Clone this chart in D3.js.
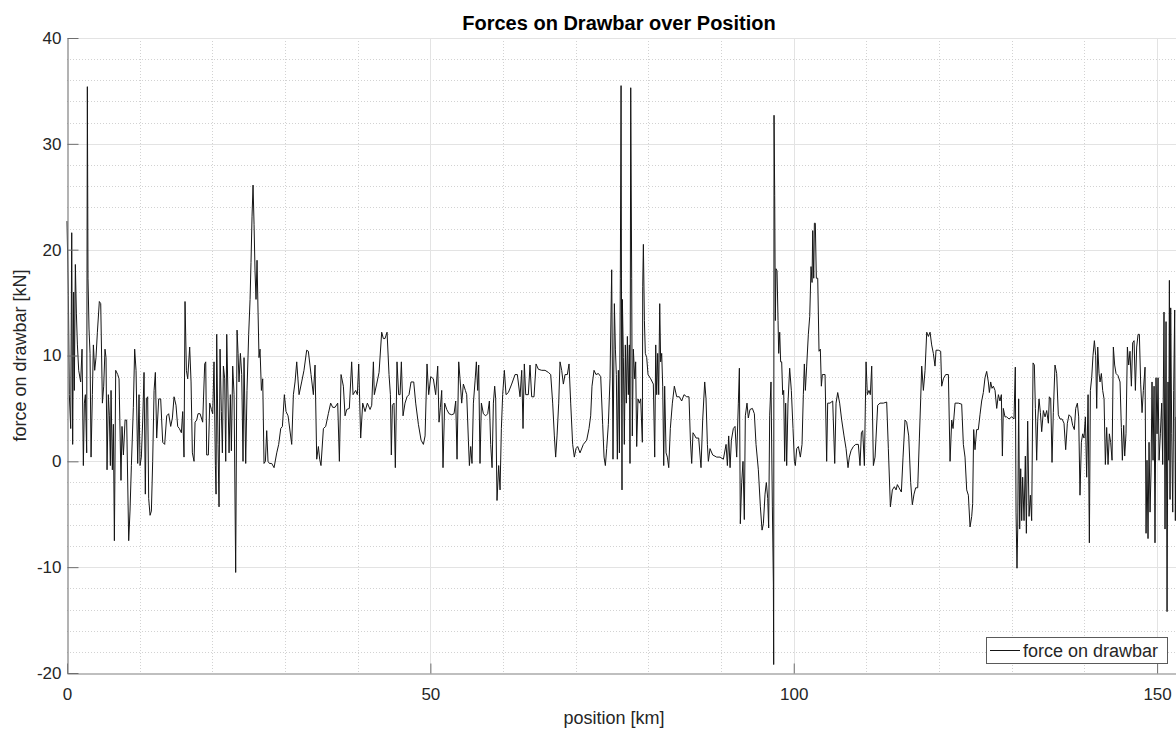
<!DOCTYPE html>
<html><head><meta charset="utf-8">
<script src="https://cdn.jsdelivr.net/npm/d3@7"></script>
<style>
body{margin:0;background:#fff}
svg{display:block}
text{font-family:"Liberation Sans",Arial,Helvetica,sans-serif;fill:#262626}
</style>
</head><body>
<svg id="chart" width="1176" height="733"></svg>
<script>
// ---------- texts & ticks ----------
const titleText = "Forces on Drawbar over Position";
const xLabelText = "position [km]";
const yLabelText = "force on drawbar [kN]";
const legendText = "force on drawbar";
const xTickValues = [0, 50, 100, 150];
const yTickValues = [-20, -10, 0, 10, 20, 30, 40];
const xDomain = [0, 152.6];
const yDomain = [-20, 40];

// ---------- data: [position km, force kN] ----------
const seg0to30 = [[0.00,22.7],[0.19,15.7],[0.32,6.3],[0.51,3.1],[0.65,21.6],[0.78,1.6],[0.92,16],[1.01,6.7],[1.15,18.6],[1.29,14],[1.43,11],[1.61,8.6],[1.88,7.5],[2.07,10.6],[2.25,-0.4],[2.39,5.5],[2.53,6.3],[2.71,0.8],[2.80,35.4],[2.89,17.3],[3.03,12.5],[3.17,10.2],[3.31,0.4],[3.49,6.3],[3.63,11],[3.81,8.6],[3.99,9.8],[4.18,12.2],[4.45,15.1],[4.64,14.9],[4.87,5.5],[5.05,7.1],[5.23,10.6],[5.37,9.8],[5.51,-0.8],[5.69,6.3],[5.83,4.3],[5.97,-0.4],[6.06,6.7],[6.24,-0.8],[6.38,3.5],[6.52,-7.5],[6.70,8.6],[6.98,8.2],[7.16,7.8],[7.43,-1.8],[7.57,3.3],[7.76,0.6],[7.99,3.9],[8.21,3.9],[8.49,-7.5],[8.67,-4.7],[8.86,-0.4],[9.13,5.1],[9.31,10.6],[9.50,8.6],[9.73,-0.2],[9.91,6.3],[10.05,-0.4],[10.23,0.4],[10.42,3.9],[10.60,8.4],[10.78,-3.1],[10.92,5.9],[11.10,6.1],[11.24,-3.5],[11.43,-5.1],[11.61,-4.7],[11.79,0],[11.98,6.7],[12.16,8.4],[12.34,2.2],[12.62,5.9],[12.89,5.9],[13.17,1.8],[13.44,1.6],[13.72,4.3],[13.99,4.5],[14.27,3.3],[14.50,4.1],[14.73,6.1],[15.00,5.3],[15.23,3.3],[15.46,3.1],[15.74,2.7],[15.92,4.7],[16.10,0.4],[16.24,15.1],[16.43,8.6],[16.61,7.8],[16.88,10.8],[17.07,7.5],[17.25,0.8],[17.48,0],[17.62,3.7],[17.85,3.9],[18.03,4.5],[18.31,4.5],[18.67,3.7],[18.95,9.2],[19.09,9.4],[19.22,0.6],[19.45,0.6],[19.64,5.5],[19.87,4.9],[20.05,4.5],[20.23,9.4],[20.42,-0.4],[20.51,-3.1],[20.60,12],[20.78,1.6],[20.92,-4.3],[21.06,10.6],[21.24,4.7],[21.38,0.8],[21.52,9.0],[21.70,7.8],[21.84,0],[21.98,12],[22.16,5.9],[22.30,0.8],[22.48,6.3],[22.62,1],[22.80,9],[22.99,6.3],[23.21,-10.5],[23.40,12.4],[23.54,10.2],[23.67,7.5],[23.86,10.2],[24.04,8.2],[24.22,0],[24.36,9.8],[24.59,-0.2],[24.77,6.7],[25.00,12],[25.19,15.3],[25.32,18.8],[25.46,23.1],[25.60,26.1],[25.74,22.4],[25.87,18],[26.01,15.3],[26.15,19],[26.29,14.1],[26.42,9.8],[26.56,10.6],[26.75,6.7],[26.93,7.8],[27.11,-0.2],[27.30,0],[27.48,2.9],[27.66,0],[27.85,-0.2],[28.17,-0.2],[28.49,-0.6],[28.86,0.8],[29.13,1.6],[29.41,3.1],[29.64,3.3],[29.91,6.3],[30.14,4.7],[30.42,4.3]];
const seg30to61 = [[30.92,1.6],[31.15,6.3],[31.38,7.5],[31.61,9.4],[31.93,6.3],[32.29,7.5],[32.61,8.6],[32.98,10.5],[33.21,10.4],[33.58,8.2],[33.90,6.3],[34.13,9.1],[34.36,0.2],[34.59,1.4],[34.77,0.2],[34.95,-0.4],[35.28,3.1],[35.60,3.3],[35.96,4.5],[36.28,5.5],[36.56,5.1],[36.88,5.1],[37.25,5.5],[37.48,0],[37.71,8.2],[38.03,7.1],[38.26,4.3],[38.49,4.9],[38.85,5],[39.17,9.4],[39.36,6.3],[39.72,6.7],[39.95,6.3],[40.14,9.2],[40.41,2.2],[40.69,5.5],[41.01,4.7],[41.33,5.5],[41.70,4.9],[41.93,5.3],[42.16,9.4],[42.29,6.3],[42.61,7.3],[42.94,8.4],[43.30,12.2],[43.53,11.6],[43.76,11.6],[44.04,12.2],[44.31,8.2],[44.50,6.3],[44.63,0.6],[44.77,5.3],[45.00,5.5],[45.18,-0.6],[45.41,9.4],[45.64,6.3],[45.83,6.3],[46.01,9.4],[46.24,4.3],[46.51,5.5],[46.79,6.1],[47.06,6.3],[47.34,7.5],[47.71,7.5],[47.98,5.5],[48.35,3.5],[48.72,2],[49.04,1.6],[49.27,2.4],[49.54,9.2],[49.77,6.3],[50.05,8],[50.41,7.8],[50.73,6.3],[51.01,9],[51.19,3.7],[51.38,5.1],[51.56,6.7],[51.74,-0.6],[51.97,5.5],[52.25,4.9],[52.57,4.5],[52.94,4.4],[53.26,4.5],[53.49,5.7],[53.67,0.2],[53.90,9.4],[54.08,7.8],[54.31,5.5],[54.54,7.3],[54.82,6.7],[55.00,6.3],[55.23,2],[55.37,-0.4],[55.55,1.4],[55.73,-0.2],[55.92,5.5],[56.15,7.6],[56.33,9.4],[56.51,6.7],[56.65,9.1],[56.83,-0.2],[57.02,5.5],[57.29,4.5],[57.61,4.3],[57.89,4.5],[58.12,5.7],[58.30,1.6],[58.49,-0.6],[58.67,5.5],[58.85,7.1],[58.99,5.9],[59.17,-3.7],[59.40,-0.4],[59.59,-2.7],[59.77,3.1],[59.95,6.3],[60.18,8.6],[60.41,6.3],[60.73,6.5],[61.19,7.3],[61.65,8.2]];
const seg61to92 = [[61.97,8.2],[62.34,6.1],[62.57,8.6],[62.75,3.1],[62.93,9.2],[63.12,6.3],[63.48,6.3],[63.71,9.1],[63.94,6.1],[64.26,6.1],[64.54,9.2],[64.86,8.7],[65.32,8.6],[65.78,8.6],[66.24,8.4],[66.56,8.2],[66.83,5.5],[67.06,2.4],[67.24,0.4],[67.43,2.4],[67.66,5.5],[67.84,9.4],[68.07,8.6],[68.30,7.3],[68.53,8.2],[68.85,8.2],[69.08,9.2],[69.31,5.5],[69.58,1.6],[69.81,0.4],[70.04,1.2],[70.27,1.4],[70.59,0.8],[71.05,1.6],[71.51,2],[71.83,3.1],[72.06,4.3],[72.24,7.1],[72.52,8.6],[72.79,8.2],[73.12,8.3],[73.44,8],[73.71,3.5],[73.90,0.4],[74.08,-0.4],[74.26,1.2],[74.49,3.5],[74.72,7.8],[74.95,18.1],[75.13,0.2],[75.32,14.9],[75.46,10.6],[75.59,8.2],[75.73,0.2],[75.87,8.6],[76.01,0.8],[76.14,17.3],[76.24,35.5],[76.33,5.5],[76.37,-2.7],[76.42,15.3],[76.56,9.8],[76.69,1.6],[76.83,11],[76.97,5.5],[77.11,11.8],[77.24,6.3],[77.38,11],[77.47,-0.2],[77.57,35.3],[77.70,17.3],[77.79,2.4],[77.93,10.6],[78.12,7.8],[78.25,9.4],[78.39,1.4],[78.57,5.9],[78.76,5.5],[78.94,5.9],[79.17,1.8],[79.22,16.5],[79.31,20.5],[79.45,13.3],[79.58,10.2],[79.77,9.8],[79.95,8.2],[80.32,7.8],[80.68,7.3],[80.87,0.4],[81.01,11],[81.14,6.3],[81.28,10.2],[81.42,6.3],[81.56,14.9],[81.69,9.4],[81.83,10.2],[81.97,7.1],[82.11,-0.4],[82.24,7.1],[82.43,0.8],[82.61,0.4],[82.80,-0.6],[83.02,3.1],[83.30,5.5],[83.57,7.1],[83.90,6.1],[84.26,6.1],[84.58,5.7],[84.90,6.3],[85.27,6.1],[85.59,6.1],[85.78,2],[85.96,-0.2],[86.14,2.7],[86.33,2.5],[86.56,2.2],[86.92,2.2],[87.24,-0.6],[87.47,3.9],[87.75,7.5],[87.93,5.9],[88.12,1.6],[88.25,0],[88.48,1.2],[88.85,0.6],[89.40,0.4],[89.86,0.4],[90.32,0.2],[90.69,1.6],[90.87,-0.4],[91.05,2.4],[91.24,-0.6],[91.42,2],[91.69,3.1],[91.92,3.3],[92.15,0.4],[92.38,5.5],[92.52,8.8]];
const seg92to123 = [[92.65,-5.9],[92.84,-2],[93.02,0],[93.20,-5.5],[93.34,4.3],[93.57,5.5],[93.75,4.1],[93.98,4.9],[94.31,5],[94.58,4.5],[94.81,1.6],[95.13,-0.8],[95.41,-4.3],[95.64,-6.5],[95.82,-5.9],[96.05,-3.1],[96.23,-2],[96.42,-3.5],[96.55,-6.3],[96.69,4.3],[96.87,7.5],[97.06,-4.3],[97.20,-11.6],[97.24,-19.2],[97.29,32.7],[97.38,25.1],[97.47,13.3],[97.56,18.2],[97.70,18],[97.84,13.3],[97.93,10.2],[98.07,12.2],[98.20,9.4],[98.34,9.4],[98.48,6.3],[98.62,6.7],[98.75,0],[98.89,5.5],[99.03,-0.4],[99.21,5.5],[99.44,8.8],[99.67,6.7],[99.90,3.1],[100.09,0],[100.22,-0.4],[100.41,1.2],[100.64,1.4],[100.91,0.4],[101.14,1.6],[101.32,6.3],[101.46,9.2],[101.60,6.7],[101.78,9],[102.01,12],[102.20,13.7],[102.38,18.4],[102.52,16.9],[102.61,21.8],[102.75,17.3],[102.84,22.5],[102.97,22.5],[103.11,17.3],[103.30,17.3],[103.48,10.4],[103.66,10.6],[103.80,7.1],[103.94,8.2],[104.31,8.2],[104.53,0],[104.67,5.5],[104.99,5.5],[105.36,5.7],[105.64,-0.2],[105.82,5.5],[106.05,6.5],[106.32,5.5],[106.60,3.9],[106.92,2.4],[107.20,1.2],[107.47,-0.6],[107.65,0.4],[107.88,1],[108.20,1.4],[108.53,1.6],[108.89,1.6],[109.12,-0.4],[109.31,2.7],[109.49,2.9],[109.72,-0.4],[109.95,9.4],[110.13,6.3],[110.36,6.7],[110.54,6.3],[110.73,9],[110.96,-0.4],[111.19,0.4],[111.55,5.3],[111.87,5.5],[112.33,5.5],[112.79,5.6],[113.02,1.2],[113.30,-4.3],[113.57,-2.7],[113.85,-2.4],[114.08,-2.7],[114.26,-2.2],[114.49,-2.5],[114.81,-2.9],[115.04,0.4],[115.31,3.9],[115.54,3.7],[115.82,2.4],[116.09,-2],[116.32,-4.1],[116.55,-3.1],[116.78,-2.5],[117.06,-2.5],[117.29,2.2],[117.47,5.9],[117.61,9],[117.84,6.7],[118.07,8.6],[118.30,12.2],[118.53,11.8],[118.76,12.2],[118.98,11],[119.21,10.2],[119.44,9],[119.58,10.5],[119.90,10.5],[120.22,10.4],[120.36,7.1],[120.59,7.8],[120.91,8.2],[121.28,8.2],[121.51,0],[121.74,3.9],[121.92,3.1],[122.20,5.5],[122.65,5.5],[123.11,5.4],[123.34,1.6],[123.57,0.4]];
const seg123to153 = [[123.80,-2.7],[124.03,-3.2],[124.26,-6.2],[124.49,-5.2],[124.62,-4],[124.76,3],[124.94,1.1],[125.17,3],[125.40,3],[125.63,4.4],[125.86,5.7],[126.09,6.5],[126.32,7.9],[126.55,8.5],[126.78,7.5],[126.92,6.5],[127.10,7.5],[127.28,6.9],[127.47,7.1],[127.70,6.7],[127.93,5],[128.16,6.3],[128.38,5.7],[128.57,6.3],[128.71,0.5],[128.84,5],[129.07,4.2],[129.30,4.2],[129.62,4],[129.99,4.2],[130.31,4],[130.49,8.9],[130.59,-4.8],[130.72,-10.1],[130.82,-6.4],[130.95,5.9],[131.09,-6.4],[131.23,-0.7],[131.37,-5.6],[131.50,-1.5],[131.69,-5.6],[131.87,0.5],[132.01,-6.8],[132.19,3.8],[132.38,-5.2],[132.56,-3.2],[132.74,-5.6],[132.93,9.3],[133.11,9.1],[133.25,5],[133.43,0.1],[133.57,3.8],[133.75,5.9],[133.94,4.6],[134.12,2.8],[134.35,4.8],[134.58,4.2],[134.81,4.8],[135.04,3.6],[135.17,6.1],[135.36,5.9],[135.54,-0.1],[135.72,4.6],[135.95,9.1],[136.18,8.3],[136.41,4.4],[136.64,4],[136.92,4],[137.19,3.6],[137.42,1.1],[137.65,3.6],[137.88,4.4],[138.16,4.2],[138.38,3.4],[138.61,3],[138.80,5],[139.03,5.5],[139.21,4.2],[139.39,-3.2],[139.58,1.8],[139.76,2.6],[139.94,2.2],[140.13,4.2],[140.31,-1.5],[140.50,6.3],[140.68,-7.7],[140.82,6.7],[141.00,7.9],[141.18,10],[141.37,11.4],[141.55,10],[141.69,5],[141.83,10.8],[142.01,8.3],[142.15,7.5],[142.33,8.3],[142.51,6.7],[142.70,5.9],[142.88,-0.3],[143.06,3.2],[143.25,-0.3],[143.43,2.6],[143.61,1.8],[143.80,0.1],[143.98,10.8],[144.16,9.1],[144.35,8.3],[144.62,8.1],[144.90,7.5],[145.08,3.2],[145.22,0.1],[145.40,3.4],[145.54,0.5],[145.72,2.6],[145.91,10.8],[146.09,9.1],[146.27,10.4],[146.46,7.1],[146.64,11.2],[146.83,11.4],[147.01,6.7],[147.19,10.8],[147.38,12],[147.56,12],[147.74,7.3],[147.93,4.6],[148.11,6.7],[148.34,8.9],[148.48,-6.8],[148.61,0.1],[148.75,-7.3],[148.89,1.8],[149.03,-4.8],[149.16,-1.1],[149.30,7.5],[149.44,0.1],[149.58,7.1],[149.71,-7.7],[149.85,7.9],[149.99,2.6],[150.13,7.9],[150.27,0.1],[150.45,2.6],[150.63,5.5],[150.77,-0.3],[150.95,14.1],[151.09,-6.4],[151.23,13.2],[151.37,-14.2],[151.50,7.5],[151.60,0.1],[151.69,17.1],[151.78,-3.6],[151.87,14.5],[152.01,2.6],[152.15,-4.8],[152.28,6.7],[152.42,14.3],[152.51,-5.6],[152.60,4.2]];
const drawbarForce = [].concat(seg0to30, seg30to61, seg61to92, seg92to123, seg123to153);

// ---------- layout ----------
const plot = {left: 67, right: 1176, top: 38, bottom: 673};
const svg = d3.select("#chart");
const x = d3.scaleLinear().domain(xDomain).range([plot.left, plot.right]);
const y = d3.scaleLinear().domain(yDomain).range([plot.bottom, plot.top]);

const xMinor = d3.range(10, 153, 10).filter(v => v % 50 !== 0);
const yMinor = d3.range(-18, 40, 2).filter(v => v % 10 !== 0);
const xMajor = xTickValues.filter(v => v !== 0);
const yMajor = yTickValues.filter(v => v !== -20);

const grid = svg.append("g");
grid.selectAll(".xm").data(xMinor).join("line")
  .attr("x1", d => Math.round(x(d)) + 0.5).attr("x2", d => Math.round(x(d)) + 0.5)
  .attr("y1", plot.top).attr("y2", plot.bottom)
  .attr("stroke", "#d2d2d2").attr("stroke-dasharray", "1,2");
grid.selectAll(".ym").data(yMinor).join("line")
  .attr("y1", d => Math.round(y(d)) + 0.5).attr("y2", d => Math.round(y(d)) + 0.5)
  .attr("x1", plot.left).attr("x2", plot.right)
  .attr("stroke", "#d2d2d2").attr("stroke-dasharray", "1,2");
grid.selectAll(".xM").data(xMajor).join("line")
  .attr("x1", d => Math.round(x(d)) + 0.5).attr("x2", d => Math.round(x(d)) + 0.5)
  .attr("y1", plot.top).attr("y2", plot.bottom)
  .attr("stroke", "#e3e3e3");
grid.selectAll(".yM").data(yMajor).join("line")
  .attr("y1", d => Math.round(y(d)) + 0.5).attr("y2", d => Math.round(y(d)) + 0.5)
  .attr("x1", plot.left).attr("x2", plot.right)
  .attr("stroke", "#e3e3e3");

// ---------- data line ----------
const line = d3.line().x(d => x(d[0])).y(d => y(d[1]));
svg.append("path").datum(drawbarForce)
  .attr("d", line).attr("fill", "none")
  .attr("stroke", "#151515").attr("stroke-width", 1)
  .attr("stroke-linejoin", "miter");

// ---------- axes ----------
const plainNum = d => String(d);
const xAxis = d3.axisBottom(x).tickValues(xTickValues).tickFormat(plainNum)
  .tickSizeInner(-10).tickSizeOuter(0).tickPadding(14);
const yAxis = d3.axisLeft(y).tickValues(yTickValues).tickFormat(plainNum)
  .tickSizeInner(-11).tickSizeOuter(0).tickPadding(6);
const gx = svg.append("g").attr("transform", `translate(0,${plot.bottom + 0.5})`).call(xAxis);
const gy = svg.append("g").attr("transform", `translate(${plot.left + 0.5},0)`).call(yAxis);
[gx, gy].forEach(g => {
  g.select(".domain").attr("stroke", "#808080").attr("stroke-width", 1.2);
  g.selectAll(".tick line").attr("stroke", "#6e6e6e");
  g.selectAll(".tick text").attr("font-size", 17).attr("fill", "#262626")
    .attr("font-family", '"Liberation Sans", Arial, sans-serif');
});

// ---------- labels ----------
svg.append("text").attr("x", 619).attr("y", 30).attr("text-anchor", "middle")
  .attr("font-size", 20).attr("font-weight", "bold").style("fill", "#000").text(titleText);
svg.append("text").attr("x", 614).attr("y", 724).attr("text-anchor", "middle")
  .attr("font-size", 18).text(xLabelText);
svg.append("text").attr("transform", `translate(26,${(plot.top + plot.bottom) / 2}) rotate(-90)`)
  .attr("text-anchor", "middle").attr("font-size", 18).text(yLabelText);

// ---------- legend ----------
const lg = svg.append("g").attr("transform", "translate(986,637)");
lg.append("rect").attr("x", 0.5).attr("y", 0.5).attr("width", 181).attr("height", 26)
  .attr("fill", "#fff").attr("stroke", "#5a5a5a").attr("stroke-width", 1);
lg.append("line").attr("x1", 4).attr("x2", 34).attr("y1", 13.5).attr("y2", 13.5)
  .attr("stroke", "#151515").attr("stroke-width", 1);
lg.append("text").attr("x", 37).attr("y", 19.5).attr("font-size", 18).text(legendText);
</script>
</body></html>
